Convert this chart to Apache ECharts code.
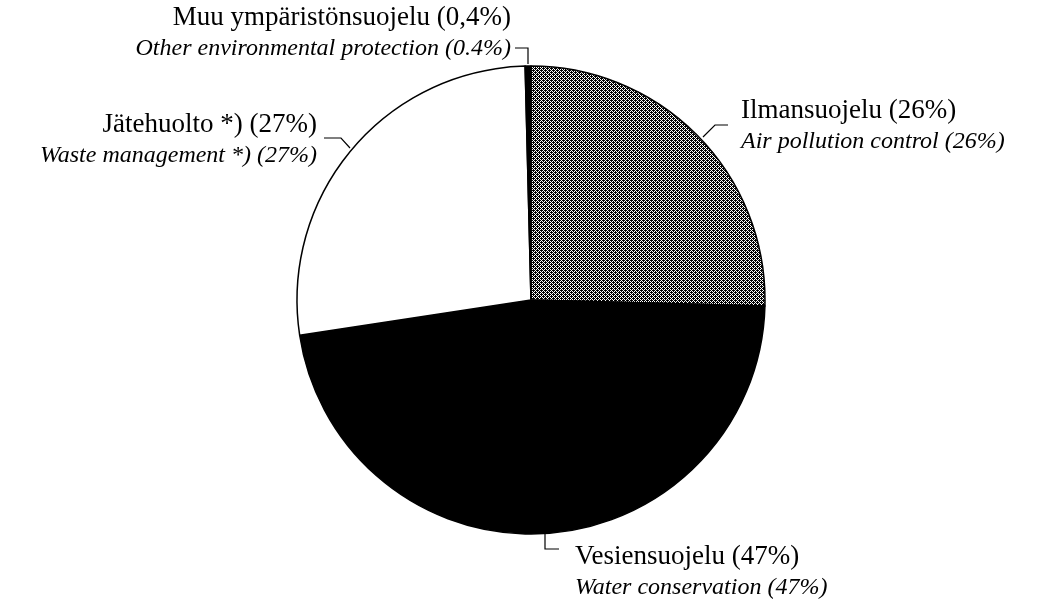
<!DOCTYPE html>
<html>
<head>
<meta charset="utf-8">
<script src="https://cdn.jsdelivr.net/npm/echarts@6/dist/echarts.min.js"></script>
<style>
  html, body { margin: 0; padding: 0; background: #fff; }
  #main { width: 1046px; height: 601px; }
</style>
</head>
<body>
<div id="main"></div>
<script>
// slice order: clockwise from 12 o'clock
var namesFi = ['Ilmansuojelu (26%)', 'Vesiensuojelu (47%)', 'Jätehuolto *) (27%)', 'Muu ympäristönsuojelu (0,4%)']
var namesEn = ['Air pollution control (26%)', 'Water conservation (47%)', 'Waste management *) (27%)', 'Other environmental protection (0.4%)']
var shares = [25.4, 47.2, 27.0, 0.4]

// dithered grey fill like the printed original
var makeDither = function () {
  var c = document.createElement('canvas')
  c.width = 4; c.height = 4
  var ctx = c.getContext('2d')
  ctx.fillStyle = '#ffffff'
  ctx.fillRect(0, 0, 4, 4)
  ctx.fillStyle = '#000000'
  for (var y = 0; y < 4; y++) {
    for (var x = 0; x < 4; x++) {
      if ((x + y) % 2 === 0) ctx.fillRect(x, y, 1, 1)
    }
  }
  ctx.fillRect(1, 2, 1, 1)
  ctx.fillRect(3, 0, 1, 1)
  return c
}

var fills = [
  { image: makeDither(), repeat: 'repeat' },
  '#000000',
  '#ffffff',
  '#000000'
]

// label placement (x, y, align) and leader lines
var labelPos = [
  { x: 741, y: 126, align: 'left', line: [[703, 137], [715, 125], [728, 125]] },
  { x: 575, y: 572, align: 'left', line: [[545, 533], [545, 549], [559, 549]] },
  { x: 317, y: 140, align: 'right', line: [[350, 148], [341, 138], [324, 138]] },
  { x: 511, y: 33, align: 'right', line: [[528, 64], [528, 48], [515, 48]] }
]

var chart = echarts.init(document.getElementById('main'), null, { renderer: 'canvas' })

var pieData = shares.map(function (v, i) {
  return {
    value: v,
    name: namesFi[i],
    en: namesEn[i],
    itemStyle: { color: fills[i] }
  }
})

var option = {
  backgroundColor: '#ffffff',
  animation: false,
  series: [
    {
      type: 'pie',
      center: [531, 300],
      radius: 234,
      startAngle: 90,
      clockwise: true,
      avoidLabelOverlap: false,
      emphasis: { disabled: true },
      itemStyle: { borderColor: '#000', borderWidth: 1.5 },
      label: {
        show: true,
        color: '#000',
        fontFamily: 'Liberation Serif',
        fontSize: 24,
        lineHeight: 31,
        formatter: function (p) {
          return '{a|' + p.name + '}\n{b|' + p.data.en + '}'
        },
        rich: {
          a: { fontFamily: 'Liberation Serif', fontSize: 27, lineHeight: 31, color: '#000' },
          b: { fontFamily: 'Liberation Serif', fontStyle: 'italic', fontSize: 24, lineHeight: 31, color: '#000' }
        }
      },
      labelLine: {
        show: true,
        lineStyle: { color: '#000', width: 1.2 }
      },
      labelLayout: function (params) {
        var p = labelPos[params.dataIndex]
        return {
          x: p.x,
          y: p.y,
          align: p.align,
          verticalAlign: 'middle',
          labelLinePoints: p.line
        }
      },
      data: pieData
    }
  ]
}

chart.setOption(option)
</script>
</body>
</html>
